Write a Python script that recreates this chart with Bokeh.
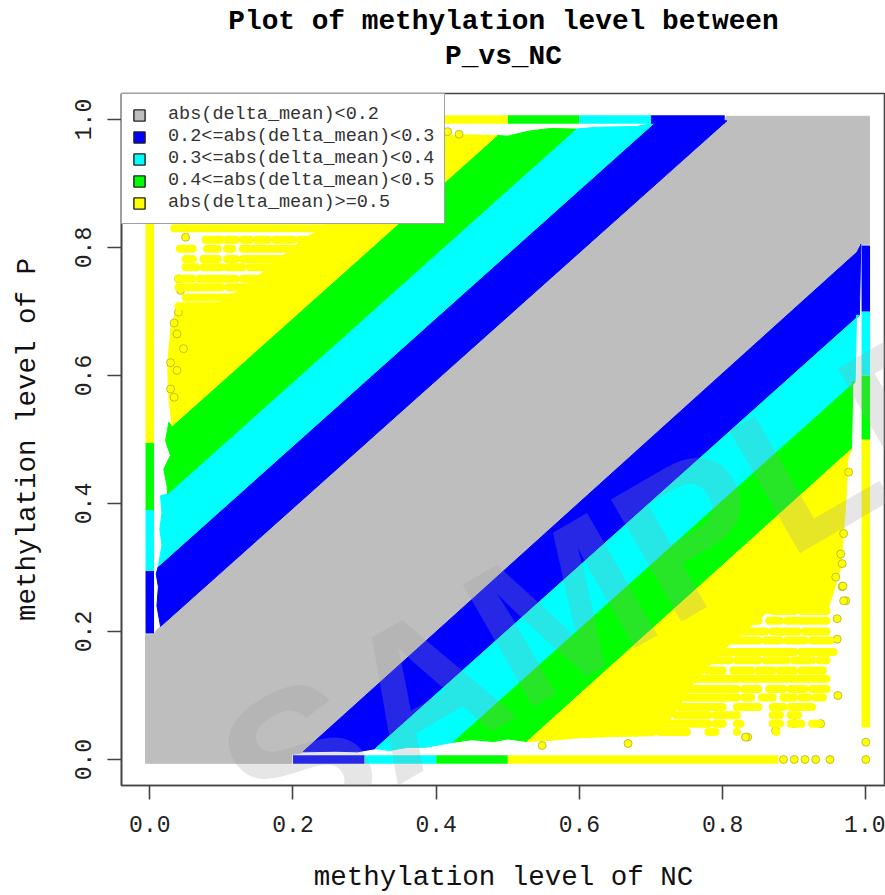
import math
from bokeh.plotting import figure
from bokeh.embed import file_html
from bokeh.resources import INLINE
from bokeh.models import FixedTicker, Legend, LegendItem, Label, Range1d, Title, PrintfTickFormatter

title_lines = ["Plot of methylation level between", "P_vs_NC"]
x_label = "methylation level of NC"
y_label = "methylation level of P"
ticks = [0.0, 0.2, 0.4, 0.6, 0.8, 1.0]
legend_labels = ["abs(delta_mean)<0.2", "0.2<=abs(delta_mean)<0.3", "0.3<=abs(delta_mean)<0.4",
                 "0.4<=abs(delta_mean)<0.5", "abs(delta_mean)>=0.5"]
colors = ["#bebebe", "#0000ff", "#00ffff", "#00ff00", "#ffff00"]

# Regions of the scatter (NC level, P level)
grey_x = [-.006, .198, .198, .212, .988, .99, 1.005, 1.005, .805, .804, .015, .008, .006, -.006]
grey_y = [-.006, -.006, .008, .010, .793, .805, .805, 1.005, 1.005, .998, .208, .200, .195, .195]

blue_low_x = [.214, .26, .29, .315, .991, .993, .988]
blue_low_y = [.012, .013, .012, .017, .694, .805, .793]
cyan_low_x = [.315, .335, .36, .385, .424, .985, .987, .991]
cyan_low_y = [.017, .014, .019, .019, .027, .590, .694, .694]
green_low_x = [.424, .45, .48, .50, .527, .98, .982, .985]
green_low_y = [.027, .031, .028, .032, .028, .485, .590, .590]
yellow_low_x = [.527, .56, .60, .65, .70, .713, .76, .80, .86, .945, .955, .965, .968, .972, .975, .98]
yellow_low_y = [.028, .030, .034, .036, .037, .040, .12, .17, .228, .228, .262, .300, .340, .400, .470, .485]

blue_up_x = [.015, .010, .012, .009, .012, .705, .806, .806]
blue_up_y = [.208, .240, .270, .290, .302, .995, .998, .998]
cyan_up_x = [.012, .017, .014, .017, .015, .025, .595, .625, .68, .705]
cyan_up_y = [.302, .335, .360, .385, .412, .415, .985, .988, .989, .995]
green_up_x = [.025, .024, .0196, .029, .022, .0266, .031, .485, .50, .53, .56, .595]
green_up_y = [.415, .428, .454, .475, .498, .527, .521, .975, .974, .982, .986, .985]
yellow_up_x = [.031, .026, .025, .03, .037, .10, .14, .20, .25, .25, .42, .445, .485]
yellow_up_y = [.521, .573, .62, .68, .70, .715, .745, .80, .84, .975, .975, .976, .975]

# Points at exactly 0 or 1 in one sample: strips along the edges
edge_x0 = [.2, .3, .4, .5, -.0, -.0, -.0, -.0, .0, .5, .6, .7, 1., 1., 1., 1.]
edge_y0 = [0., 0., 0., 0., .197, .295, .39, .495, 1., 1., 1., 1., .05, .5, .6, .7]
edge_x1 = [.3, .4, .5, .878, -.0, -.0, -.0, -.0, .5, .6, .7, .803, 1., 1., 1., 1.]
edge_y1 = [0., 0., 0., 0., .295, .39, .495, 1., 1., 1., 1., 1., .5, .6, .7, .803]
edge_color = ["#0000ff", "#00ffff", "#00ff00", "#ffff00", "#0000ff", "#00ffff", "#00ff00", "#ffff00",
              "#ffff00", "#00ff00", "#00ffff", "#0000ff", "#ffff00", "#00ff00", "#00ffff", "#0000ff"]

# Sparse yellow points, row by row: (P level, NC level runs)
lower_rows = [
    (.232, [(.80, .82), (.83, .85), (.87, .90), (.91, .945)]),
    (.217, [(.728, .82), (.83, .85), (.865, .88), (.89, .90), (.905, .945)]),
    (.200, [(.713, .81), (.825, .86), (.87, .905), (.915, .945)]),
    (.186, [(.713, .85), (.86, .88), (.89, .915), (.925, .95)]),
    (.168, [(.713, .90), (.91, .955)]),
    (.155, [(.713, .765), (.785, .81), (.82, .85), (.86, .89), (.90, .925), (.935, .945)]),
    (.139, [(.713, .77), (.78, .80), (.815, .84), (.85, .87), (.88, .90), (.91, .94)]),
    (.126, [(.713, .945)]),
    (.110, [(.713, .74), (.755, .82), (.83, .85), (.865, .885), (.895, .915), (.925, .945)]),
    (.097, [(.713, .82), (.83, .84), (.855, .87), (.885, .90), (.91, .92), (.93, .94)]),
    (.082, [(.713, .73), (.74, .80), (.82, .85), (.87, .885), (.895, .925)]),
    (.069, [(.713, .72), (.735, .78), (.79, .82), (.87, .88), (.895, .905)]),
    (.056, [(.713, .75), (.755, .78), (.79, .80), (.82, .825), (.87, .88), (.895, .91), (.925, .935)]),
    (.043, [(.713, .75), (.78, .79), (.82, .82), (.875, .875)]),
]
upper_rows = [
    (.830, [(.034, .25)]),
    (.812, [(.078, .10), (.108, .12), (.13, .14), (.15, .165), (.175, .20), (.21, .25)]),
    (.798, [(.042, .06), (.08, .095), (.108, .115), (.13, .25)]),
    (.782, [(.05, .06), (.075, .095), (.108, .12), (.13, .25)]),
    (.769, [(.05, .065), (.075, .10), (.108, .13), (.14, .25)]),
    (.751, [(.04, .06), (.07, .12), (.13, .24)]),
    (.738, [(.04, .07), (.075, .085), (.09, .10), (.11, .115), (.12, .225)]),
    (.722, [(.05, .075), (.08, .09), (.095, .21)]),
    (.708, [(.04, .195)]),
]
bump_x = [.05, .04, .043, .04, .034, .038, .047, .029, .038, .029, .034, .416, .432, .40,
          .548, .668, .835, .937, .90, .874, .832, .96, .96, .967, .972, .961,
          .976, .969, .965, .967, .958, .968, .969, 1.0, 1.0, .885, .90, .915, .93, .95]
bump_y = [.816, .751, .733, .699, .682, .665, .642, .62, .608, .579, .566, .981, .977, .97,
          .022, .025, .035, .056, .056, .045, .035, .188, .22, .27, .248, .10,
          .449, .353, .321, .306, .285, .271, .248, .027, .0, .0, .0, .0, .0, .0]


def flatten(rows):
    xa, xb, ys = [], [], []
    for level, runs in rows:
        for a, b in runs:
            xa.append(a)
            xb.append(b)
            ys.append(level)
    return xa, xb, ys


p = figure(width=885, height=895, output_backend="svg", toolbar_location=None,
           x_range=Range1d(-.0395, 1.0275), y_range=Range1d(-.0406, 1.0406),
           min_border_left=121, min_border_right=0, min_border_top=93, min_border_bottom=110,
           background_fill_color="white", border_fill_color="white")
p.grid.visible = False
p.outline_line_color = "#444444"
p.outline_line_width = 1.6

# Panels stack outward from the frame: a small spacer, then the second and first title lines
p.add_layout(Title(text="\u00a0", align="center", standoff=6, text_font_size="12px"), "above")
for line, gap in zip(reversed(title_lines), (0, 4)):
    p.add_layout(Title(text=line, align="center", standoff=gap,
                       text_font="Liberation Mono", text_font_size="27.8px",
                       text_font_style="bold", text_color="#000000"), "above")

for ax, label in ((p.xaxis[0], x_label), (p.yaxis[0], y_label)):
    ax.ticker = FixedTicker(ticks=ticks)
    ax.formatter = PrintfTickFormatter(format="%.1f")
    ax.axis_label = label
    ax.axis_label_text_font = "Liberation Mono"
    ax.axis_label_text_font_size = "27.5px"
    ax.axis_label_text_font_style = "normal"
    ax.axis_label_text_color = "#111111"
    ax.major_label_text_font = "Liberation Mono"
    ax.major_label_text_font_size = "23px"
    ax.major_label_text_color = "#222222"
    ax.major_tick_in = 0
    ax.major_tick_out = 14
    ax.minor_tick_line_color = None
    ax.major_tick_line_color = "#444444"
    ax.major_tick_line_width = 1.6
    ax.axis_line_color = "#444444"
    ax.axis_line_width = 1.6
    ax.major_label_standoff = 16
p.xaxis[0].axis_label_standoff = 27
p.yaxis[0].axis_label_standoff = 30
p.yaxis[0].major_label_orientation = "vertical"

polys = [(grey_x, grey_y, 0), (blue_low_x, blue_low_y, 1), (cyan_low_x, cyan_low_y, 2),
         (green_low_x, green_low_y, 3), (yellow_low_x, yellow_low_y, 4),
         (blue_up_x, blue_up_y, 1), (cyan_up_x, cyan_up_y, 2), (green_up_x, green_up_y, 3),
         (yellow_up_x, yellow_up_y, 4)]
for xs, ys, c in polys:
    p.patch(xs, ys, fill_color=colors[c], line_color=colors[c], line_width=1)

yellow = colors[4]
p.scatter(bump_x, bump_y, size=8, marker="circle", fill_color=yellow, line_color="#b0b030", line_width=.8)
for rows in (lower_rows, upper_rows):
    xa, xb, ys = flatten(rows)
    p.segment(xa, ys, xb, ys, line_color=yellow, line_width=8, line_cap="round")
p.segment(edge_x0, edge_y0, edge_x1, edge_y1, line_color=edge_color, line_width=8.5, line_cap="butt")

nan = float("nan")
proxies = [p.quad(left=[nan], right=[nan], top=[nan], bottom=[nan], fill_color=c, line_color="#222222", line_width=1.4)
           for c in colors]
legend = Legend(items=[LegendItem(label=t, renderers=[r]) for t, r in zip(legend_labels, proxies)],
                location="top_left", margin=0, padding=10, spacing=1, glyph_width=14, glyph_height=14,
                label_height=19, label_standoff=22, label_text_font="Liberation Mono",
                label_text_font_size="18.5px", label_text_color="#333333",
                border_line_color="#444444", border_line_width=1.6, background_fill_alpha=1)
p.add_layout(legend)

p.add_layout(Label(x=175, y=-108, x_units="screen", y_units="screen", text="SAMPLE", angle=30, angle_units="deg",
                   text_font="Liberation Sans", text_font_style="bold", text_font_size="205px",
                   text_color="#9d9d9d", text_alpha=.25, level="overlay"))

open("out.html", "w").write(file_html(p, INLINE))
